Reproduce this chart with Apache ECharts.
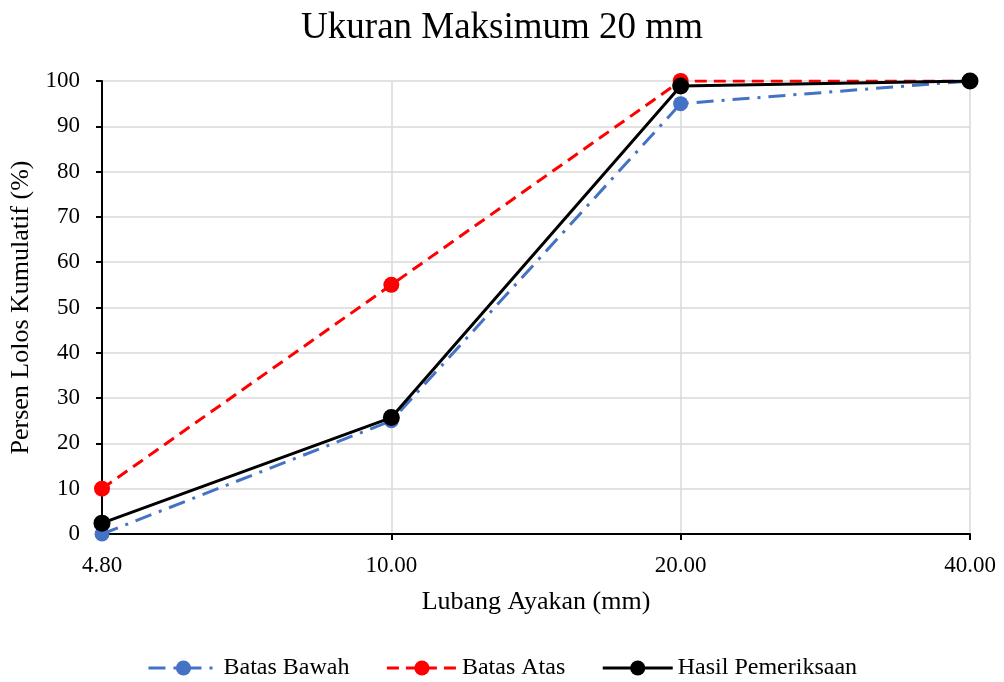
<!DOCTYPE html>
<html>
<head>
<meta charset="utf-8">
<script src="https://cdn.jsdelivr.net/npm/echarts@6/dist/echarts.min.js"></script>
<style>
  html, body { margin: 0; padding: 0; background: #fff; }
  #chart { width: 1004px; height: 682px; }
</style>
</head>
<body>
<div id="chart"></div>
<script>
  // ukuran lubang ayakan (mm)
  var categories = ['4.80', '10.00', '20.00', '40.00'];
  var batasBawah = [0, 25, 95, 100];
  var batasAtas = [10, 55, 100, 100];
  var hasilPemeriksaan = [2.4, 25.7, 98.9, 100];
  var yTicks = { min: 0, max: 100, interval: 10 };

  var serif = '"Liberation Serif", "DejaVu Serif", serif';
  var chart = echarts.init(document.getElementById('chart'));
  chart.setOption({
    animation: false,
    textStyle: { fontFamily: serif },
    title: {
      text: 'Ukuran Maksimum 20 mm',
      left: 'center',
      top: 5,
      textStyle: { fontFamily: serif, fontSize: 37, fontWeight: 'normal', color: '#000' }
    },
    grid: { left: 102, right: 34, top: 81, bottom: 148 },
    legend: {
      bottom: -3,
      left: 'center',
      itemWidth: 70,
      itemHeight: 19,
      itemGap: 36,
      lineStyle: { width: 3 },
      textStyle: { fontFamily: serif, fontSize: 24, color: '#000' },
      data: ['Batas Bawah', 'Batas Atas', 'Hasil Pemeriksaan']
    },
    xAxis: {
      type: 'category',
      data: categories,
      boundaryGap: false,
      name: 'Lubang Ayakan (mm)',
      nameLocation: 'middle',
      nameGap: 55,
      nameTextStyle: { fontFamily: serif, fontSize: 26, color: '#000' },
      axisLine: { lineStyle: { color: '#000', width: 2 } },
      axisTick: { show: true, length: 6, lineStyle: { color: '#000', width: 2 } },
      axisLabel: { fontFamily: serif, fontSize: 23, color: '#000', margin: 20 },
      splitLine: { show: true, lineStyle: { color: '#d9d9d9', width: 1.5 } }
    },
    yAxis: {
      type: 'value',
      min: yTicks.min,
      max: yTicks.max,
      interval: yTicks.interval,
      name: 'Persen Lolos Kumulatif (%)',
      nameLocation: 'middle',
      nameGap: 64,
      nameTextStyle: { fontFamily: serif, fontSize: 26, color: '#000' },
      axisLine: { show: true, lineStyle: { color: '#000', width: 2 } },
      axisTick: { show: true, length: 6, lineStyle: { color: '#000', width: 2 } },
      axisLabel: { fontFamily: serif, fontSize: 23, color: '#000', margin: 22 },
      splitLine: { show: true, lineStyle: { color: '#d9d9d9', width: 1.5 } }
    },
    series: [
      {
        name: 'Batas Bawah',
        type: 'line',
        data: batasBawah,
        symbol: 'circle',
        symbolSize: 15,
        itemStyle: { color: '#4472C4' },
        lineStyle: { color: '#4472C4', width: 3, type: [17, 8, 3, 8] }
      },
      {
        name: 'Batas Atas',
        type: 'line',
        data: batasAtas,
        symbol: 'circle',
        symbolSize: 16,
        itemStyle: { color: '#FF0000' },
        lineStyle: { color: '#FF0000', width: 3, type: [12, 7] }
      },
      {
        name: 'Hasil Pemeriksaan',
        type: 'line',
        data: hasilPemeriksaan,
        symbol: 'circle',
        symbolSize: 17,
        itemStyle: { color: '#000' },
        lineStyle: { color: '#000', width: 3 }
      }
    ]
  });
</script>
</body>
</html>
